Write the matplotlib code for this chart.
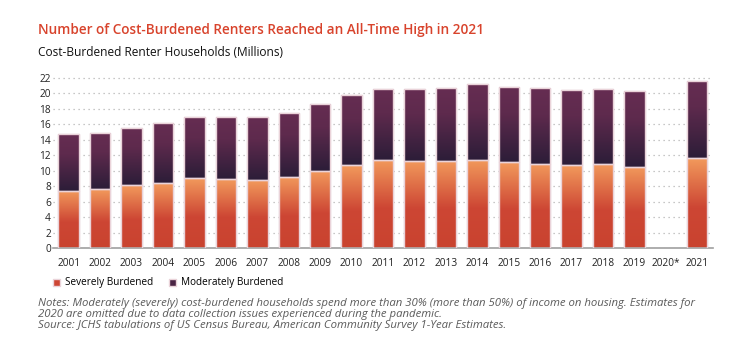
import numpy as np
import matplotlib
matplotlib.use("Agg")
import matplotlib.pyplot as plt
from matplotlib.colors import LinearSegmentedColormap
from matplotlib.patches import Rectangle

# data (millions of households)
years = ["2001", "2002", "2003", "2004", "2005", "2006", "2007", "2008", "2009", "2010",
         "2011", "2012", "2013", "2014", "2015", "2016", "2017", "2018", "2019", "2020*", "2021"]
severe = [7.4, 7.6, 8.1, 8.4, 9.0, 8.9, 8.8, 9.2, 10.0, 10.7,
          11.4, 11.3, 11.3, 11.4, 11.1, 10.9, 10.7, 10.9, 10.5, np.nan, 11.6]
total = [14.7, 14.9, 15.5, 16.2, 17.0, 16.9, 16.9, 17.5, 18.7, 19.8,
         20.6, 20.6, 20.7, 21.2, 20.9, 20.7, 20.4, 20.6, 20.3, np.nan, 21.6]
moderate = [t - s for t, s in zip(total, severe)]

font = "Open Sans"
red_title = "#d8432c"

# gradients: top -> bottom
sev_cmap = LinearSegmentedColormap.from_list("sev", [(0, "#f29a5c"), (0.55, "#cd4634"), (1, "#c9432f")])
mod_cmap = LinearSegmentedColormap.from_list("mod", [(0, "#662d52"), (0.35, "#5e2a4d"), (1, "#2c1d38")])

fig = plt.figure(figsize=(7.5, 3.59), dpi=100)
ax = fig.add_axes([53 / 750, 1 - 248 / 359, 660 / 750, 171.5 / 359])

x = np.arange(len(years))
w = 0.65
edge = "#ead3d9"
b1 = ax.bar(x, severe, w, color="#cd4634", edgecolor=edge, linewidth=1.0, zorder=2)
b2 = ax.bar(x, moderate, w, bottom=severe, color="#4a2444", edgecolor=edge, linewidth=1.0, zorder=2)

grad = np.linspace(0, 1, 256).reshape(-1, 1)
for bars, cmap in [(b1, sev_cmap), (b2, mod_cmap)]:
    for p in bars:
        h = p.get_height()
        if np.isnan(h) or h == 0:
            continue
        x0, y0 = p.get_x(), p.get_y()
        im = ax.imshow(grad, cmap=cmap, aspect="auto", origin="upper", interpolation="bilinear",
                       extent=[x0, x0 + p.get_width(), y0, y0 + h], zorder=2.5)
        im.set_clip_path(p)
        # redraw outline on top
        ax.add_patch(Rectangle((x0, y0), p.get_width(), h, fill=False,
                               edgecolor=edge, linewidth=1.0, zorder=3))

ax.set_xlim(-0.5, len(years) - 0.5)
ax.set_ylim(0, 22.2)
ax.set_yticks(np.arange(0, 23, 2))
ax.set_xticks(x)
ax.set_xticklabels(years)
ax.yaxis.grid(True, linestyle=(0, (1, 3)), color="#b5b5b5", linewidth=0.9, zorder=0)
ax.set_axisbelow(True)
for s in ["left", "right", "top"]:
    ax.spines[s].set_visible(False)
ax.spines["bottom"].set_color("#a0a0a0")
ax.spines["bottom"].set_linewidth(1.2)
ax.tick_params(axis="both", length=0, labelsize=7.3, colors="#222222")
ax.tick_params(axis="y", pad=1.5)
ax.tick_params(axis="x", pad=7)
for lab in ax.get_xticklabels() + ax.get_yticklabels():
    lab.set_fontfamily(font)

# titles
fig.text(38 / 750, 1 - 30 / 359, "Number of Cost-Burdened Renters Reached an All-Time High in 2021",
         fontsize=9.8, fontweight="semibold", color=red_title, family=font, va="center")
fig.text(38 / 750, 1 - 53 / 359, "Cost-Burdened Renter Households (Millions)",
         fontsize=8.6, color="#111111", family=font, va="center")

# legend
ax.legend([b1, b2], ["Severely Burdened", "Moderately Burdened"], loc="center left",
          bbox_to_anchor=(48 / 750, 1 - 283 / 359), bbox_transform=fig.transFigure,
          ncol=2, frameon=False, handlelength=0.7, handleheight=0.7,
          handletextpad=0.5, columnspacing=1.6, borderpad=0, prop={"family": font, "size": 7.2})

notes = ("Notes: Moderately (severely) cost-burdened households spend more than 30% (more than 50%) of income on housing. Estimates for\n"
         "2020 are omitted due to data collection issues experienced during the pandemic.\n"
         "Source: JCHS tabulations of US Census Bureau, American Community Survey 1-Year Estimates.")
fig.text(38 / 750, 1 - 298 / 359, notes, fontsize=8.2, style="italic", color="#5a5a5a",
         family=font, va="top", linespacing=1.0)

fig.savefig("out.png", dpi=100)
